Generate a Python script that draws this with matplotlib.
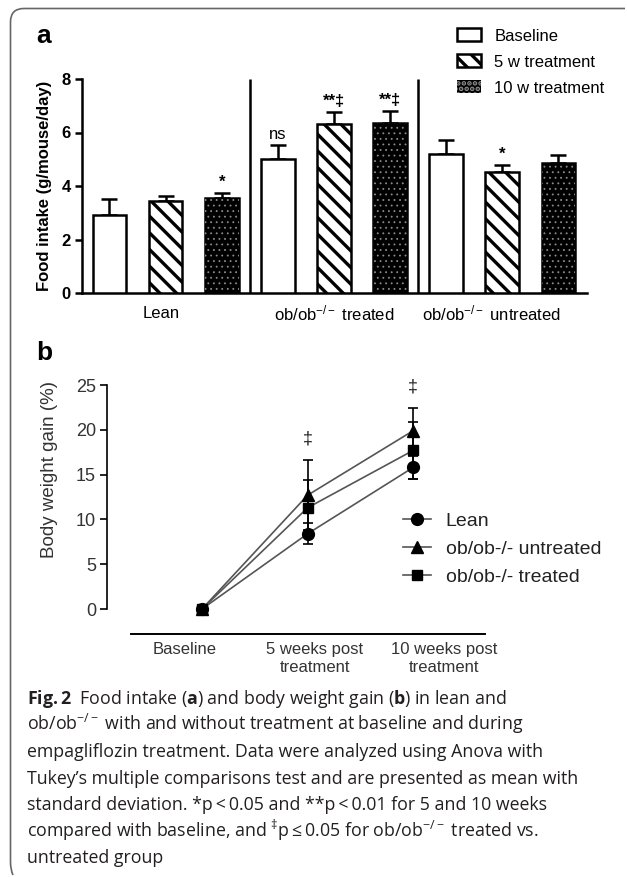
# Food intake bars (a) and body weight gain lines (b) with figure caption.

import matplotlib.pyplot as plt
import matplotlib.transforms as mtransforms
import numpy as np
from matplotlib.patches import Patch, PathPatch
from matplotlib.path import Path

plt.rcParams['font.family'] = ['Liberation Sans', 'DejaVu Sans']
plt.rcParams['mathtext.fontset'] = 'custom'
plt.rcParams['mathtext.rm'] = 'Open Sans'
plt.rcParams['mathtext.bf'] = 'Open Sans:bold'
plt.rcParams['mathtext.it'] = 'Open Sans:italic'
plt.rcParams['mathtext.sf'] = 'Liberation Sans'
plt.rcParams['hatch.linewidth'] = 2.4

# panel a data
groups = ['Lean', r'ob/ob$^{\mathsf{-/-}}$ treated', r'ob/ob$^{\mathsf{-/-}}$ untreated']
periods = ['Baseline', '5 w treatment', '10 w treatment']
intake_mean = np.array([[2.92, 3.44, 3.55],
                        [5.00, 6.32, 6.36],
                        [5.19, 4.52, 4.86]])
intake_sd = np.array([[0.59, 0.19, 0.19],
                      [0.53, 0.45, 0.43],
                      [0.53, 0.28, 0.29]])
intake_marks = [['', '', '*'],
                ['ns', '**‡', '**‡'],
                ['', '*', '']]

# panel b data
timepoints = ['Baseline', '5 weeks post\ntreatment', '10 weeks post\ntreatment']
gain_lean = [0, 8.4, 15.8]
gain_lean_sd = [0, 1.2, 1.3]
gain_untreated = [0, 12.7, 19.9]
gain_untreated_sd = [0, 3.9, 2.5]
gain_treated = [0, 11.3, 17.7]
gain_treated_sd = [0, 3.1, 3.2]
gain_marks = ['', '‡', '‡']

W, H = 627, 877
fig = plt.figure(figsize=(W / 100, H / 100), dpi=100)


def fx(px):
    return px / W


def fy(py):
    return 1 - py / H


# ---------------- panel a ----------------
ax = fig.add_axes([fx(82), fy(293), fx(587) - fx(82), fy(79) - fy(293)])
lw = 1.8
width = 0.6
base = np.arange(3) * 3

b0 = ax.bar(base + 0, intake_mean[:, 0], width, facecolor='white',
            edgecolor='black', linewidth=lw, zorder=3)
b1 = ax.bar(base + 1, intake_mean[:, 1], width, facecolor='white',
            edgecolor='black', linewidth=lw, hatch='\\\\', zorder=3)
b2 = ax.bar(base + 2, intake_mean[:, 2], width, facecolor='black',
            edgecolor='black', linewidth=lw, zorder=3)

# fine grey dots on the black bars
with plt.rc_context({'hatch.linewidth': 0.6}):
    dotted = ax.bar(base + 2, intake_mean[:, 2], width, facecolor='none',
                    edgecolor='#8a8a8a', linewidth=0, hatch='...',
                    zorder=3.5)
    dots = Patch(facecolor='black', edgecolor='#8a8a8a', linewidth=0,
                 hatch='...')
for p in list(dotted) + [dots]:
    if hasattr(p, 'set_hatch_linewidth'):
        p.set_hatch_linewidth(0.6)

for j in range(3):
    ax.errorbar(base + j, intake_mean[:, j],
                yerr=[np.zeros(3), intake_sd[:, j]], fmt='none',
                ecolor='black', elinewidth=lw, capsize=6, capthick=lw,
                zorder=2)
    for g in range(3):
        mark = intake_marks[g][j]
        if mark:
            top = intake_mean[g, j] + intake_sd[g, j]
            ax.text(base[g] + j, top + 0.12, mark, ha='center', va='bottom',
                    fontsize=12, fontweight='bold' if '*' in mark else 'normal')

ax.vlines([2.5, 5.5], 0, 8, color='black', linewidth=lw, clip_on=False)
ax.set_xlim(-0.49, 8.51)
ax.set_ylim(0, 8)
ax.set_yticks([0, 2, 4, 6, 8])
ax.set_xticks([])
for s in ['top', 'right']:
    ax.spines[s].set_visible(False)
for s in ['left', 'bottom']:
    ax.spines[s].set_linewidth(lw)
ax.tick_params(axis='y', direction='out', length=5, width=lw,
               labelsize=12, pad=3)
for lab in ax.get_yticklabels():
    lab.set_fontweight('bold')
ax.set_ylabel('Food intake (g/mouse/day)', fontsize=12,
              fontweight='bold', va='center')
ax.yaxis.set_label_coords((45 - 82) / 505, 0.5)

for g, x in zip(range(3), [0.92, 4.0, 6.8]):
    ax.text(x, -0.78, groups[g], ha='center', va='center', fontsize=12)

ax.legend([b0, b1, dots], periods, loc='center left',
          bbox_to_anchor=(fx(457), fy(62)), bbox_transform=fig.transFigure,
          frameon=False, fontsize=12, handlelength=1.45, handleheight=0.8,
          handletextpad=0.8, labelspacing=0.65, borderpad=0,
          borderaxespad=0)

fig.text(fx(36), fy(36), 'a', fontsize=19, fontweight='bold', va='center')

# ---------------- panel b ----------------
bx = fig.add_axes([fx(107), fy(634), fx(485) - fx(107), fy(385) - fy(634)])
x = np.arange(3)
series = [
    ('Lean', gain_lean, gain_lean_sd, 'o', 8.5),
    ('ob/ob-/- untreated', gain_untreated, gain_untreated_sd, '^', 8.5),
    ('ob/ob-/- treated', gain_treated, gain_treated_sd, 's', 7.5),
]
handles = []
for name, m, sd, mk, ms in series:
    bx.errorbar(x, m, yerr=sd, fmt='none', ecolor='black', elinewidth=1.2,
                capsize=3.6, capthick=1.2, zorder=2)
    h, = bx.plot(x, m, color='#555555', linewidth=1.2, marker=mk,
                 markersize=ms, markerfacecolor='black',
                 markeredgecolor='black', label=name, zorder=3)
    handles.append(h)

tops = np.max([np.add(gain_lean, gain_lean_sd),
               np.add(gain_untreated, gain_untreated_sd),
               np.add(gain_treated, gain_treated_sd)], axis=0)
for i, mark in enumerate(gain_marks):
    if mark:
        bx.text(i, tops[i] + 2.4, mark, ha='center', va='center',
                fontsize=13, color='#222222')

bx.set_xlim(-0.9, 2.68)
bx.set_ylim(-2.79, 25)
bx.set_yticks([0, 5, 10, 15, 20, 25])
bx.set_xticks(x, timepoints)
for s in ['top', 'right']:
    bx.spines[s].set_visible(False)
bx.spines['left'].set_bounds(0, 25)
bx.spines['bottom'].set_bounds(-0.67, 2.68)
bx.spines['left'].set_linewidth(1.2)
bx.spines['bottom'].set_linewidth(1.4)
bx.tick_params(axis='y', direction='out', length=5, width=1.2,
               labelsize=13, labelcolor='#333333', pad=3)
bx.tick_params(axis='x', length=0, labelsize=12, labelcolor='#333333', pad=6)
# spread the category labels a little, as in the original layout
for lab, dx in zip(bx.get_xticklabels(), [-17, 7, 31]):
    lab.set_transform(lab.get_transform() +
                      mtransforms.ScaledTranslation(dx / 100, 0,
                                                    fig.dpi_scale_trans))
bx.set_ylabel('Body weight gain (%)', fontsize=13.5, color='#333333',
              va='center')
bx.yaxis.set_label_coords((50 - 107) / 378, (634 - 470) / 249)

bx.legend(handles=handles, loc='center left',
          bbox_to_anchor=(fx(403), fy(549)), bbox_transform=fig.transFigure,
          frameon=False, fontsize=14, handlelength=1.45, handletextpad=0.75,
          labelspacing=0.55, borderpad=0, borderaxespad=0, labelcolor='#222222')

fig.text(fx(36), fy(353), 'b', fontsize=19, fontweight='bold', va='center')

# ---------------- caption ----------------
caption = [
    r'$\mathbf{Fig.2}$  Food intake ($\mathbf{a}$) and body weight gain ($\mathbf{b}$) in lean and',
    r'ob/ob$^{-/-}$ with and without treatment at baseline and during',
    'empagliflozin treatment. Data were analyzed using Anova with',
    'Tukey\u2019s multiple comparisons test and are presented as mean with',
    'standard deviation. *p\u2009<\u20090.05 and **p\u2009<\u20090.01 for 5 and 10 weeks',
    r'compared with baseline, and $^{\ddag}$p$\leq$0.05 for ob/ob$^{-/-}$ treated vs.',
    'untreated group',
]
for i, line in enumerate(caption):
    fig.text(fx(27), fy(704 + 26.5 * i), line, va='baseline', fontsize=12.8,
             family=['Open Sans', 'DejaVu Sans'], color='#231f20')

# frame around the figure
pts = [(625, 8.5), (24, 8.5), (10.5, 8.5), (10.5, 22), (10.5, 862),
       (10.5, 870), (13, 875)]
codes = [Path.MOVETO, Path.LINETO, Path.CURVE3, Path.CURVE3, Path.LINETO,
         Path.CURVE3, Path.CURVE3]
frame = Path([(fx(a), fy(b)) for a, b in pts], codes)
fig.add_artist(PathPatch(frame, facecolor='none', edgecolor='#666666',
                         linewidth=1.2, transform=fig.transFigure))

fig.savefig('out.png', dpi=100)
